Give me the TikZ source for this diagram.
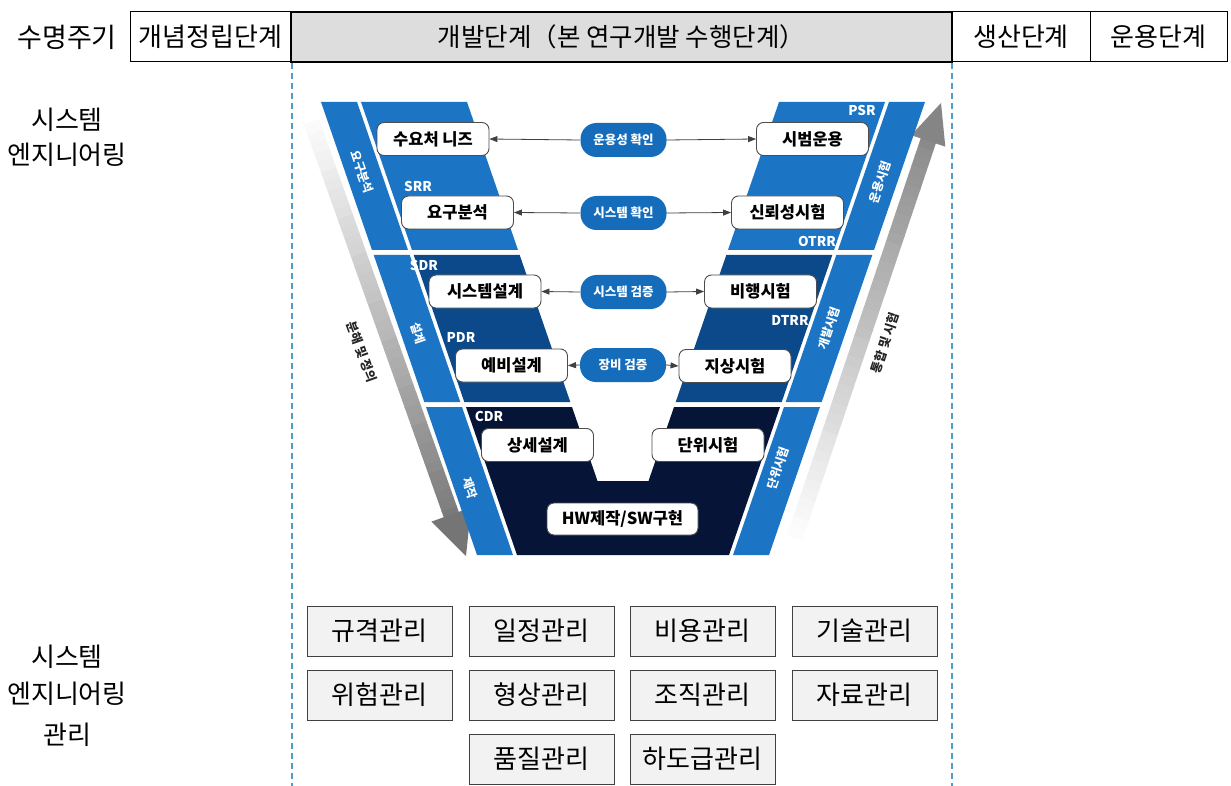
\documentclass[tikz,border=0pt]{standalone}
\usepackage{fontspec}
\setmainfont{Noto Sans CJK KR}
\usetikzlibrary{arrows.meta}
\newcommand{\fsz}[1]{\fontsize{#1}{#1}\selectfont}
\definecolor{vlight}{RGB}{27,116,196}
\definecolor{vmid}{RGB}{11,73,138}
\definecolor{vdark}{RGB}{6,20,56}
\definecolor{pillc}{RGB}{20,108,186}
\definecolor{hdrgray}{RGB}{221,221,221}
\definecolor{mgfill}{RGB}{242,242,242}
\definecolor{dashc}{RGB}{80,155,200}
\begin{document}
\begin{tikzpicture}[x=1pt,y=-1pt,
  hdr/.style={draw=black, line width=1pt, minimum height=50pt, inner sep=0pt, font=\fsz{26}},
  mg/.style={draw=black!75, fill=mgfill, line width=1pt, minimum width=145pt, minimum height=50pt, inner sep=0pt, font=\fsz{26}},
  vbox/.style={draw=black!70, fill=white, rounded corners=7pt, line width=0.9pt, minimum width=112pt, minimum height=33pt, inner sep=0pt, font=\fsz{16.5}\bfseries},
  pill/.style={fill=pillc, rounded corners=16pt, minimum width=86pt, minimum height=34pt, inner sep=0pt, text=white, font=\fsz{12.5}\bfseries},
  rev/.style={text=white, font=\fsz{13.5}\bfseries, inner sep=0pt},
  strl/.style={text=white, font=\fsz{12}\bfseries, inner sep=0pt},
  arl/.style={text=black!85, font=\fsz{12.5}\bfseries, inner sep=0pt},
  conn/.style={draw=black!75, line width=0.8pt, -{Triangle[length=8pt,width=6pt]}},
  dline/.style={draw=dashc, line width=1.2pt, dash pattern=on 6pt off 4pt},
  side/.style={font=\fsz{26}, align=center, inner sep=0pt}
]
\useasboundingbox (0,0) rectangle (1231,786);
\fill[white] (0,0) rectangle (1231,786);

% ---------- header ----------
\node[font=\fsz{27}, inner sep=0pt] (lc) at (67,37) {수명주기};
\node[hdr, minimum width=161pt] (p1) at (210.5,37) {개념정립단계};
\node[hdr, minimum width=138pt] (p3) at (1021,37) {생산단계};
\node[hdr, minimum width=137pt] (p4) at (1158.5,37) {운용단계};
\node[hdr, minimum width=661pt, fill=hdrgray, line width=2.6pt, font=\fsz{25.5}] (p2) at (621.5,37) {개발단계（본 연구개발 수행단계）};

\coordinate (d1) at (292,786);
\coordinate (d2) at (952,786);
\draw[dline] (292,63) -- (d1);
\draw[dline] (952,63) -- (d2);

% ---------- side labels ----------
\node[side] (se1) at (67,120) {시스템};
\node[side] (se2) at (67,155) {엔지니어링};
\node[side] (sm1) at (67,657) {시스템};
\node[side] (sm2) at (67,694) {엔지니어링};
\node[side] (sm3) at (67,735) {관리};

% ---------- gradient arrows ----------
\begin{scope}[shift={(466,556)}, rotate=109.6]
  \foreach \i in {0,...,41} {
    \pgfmathsetmacro\xa{40+\i*10}
    \pgfmathsetmacro\xb{\xa+10.8}
    \pgfmathtruncatemacro\pc{52-50*\i/41}
    \fill[black!\pc] (\xa,-8) rectangle (\xb,8);
  }
  \fill[black!54] (0,0) -- (44,21) -- (44,-21) -- cycle;
\end{scope}
\begin{scope}[shift={(941,103)}, rotate=-108.6]
  \foreach \i in {0,...,41} {
    \pgfmathsetmacro\xa{38+\i*10}
    \pgfmathsetmacro\xb{\xa+10.8}
    \pgfmathtruncatemacro\pc{46-45*\i/41}
    \fill[black!\pc] (\xa,-8) rectangle (\xb,8);
  }
  \fill[black!48] (0,0) -- (40,18) -- (40,-18) -- cycle;
\end{scope}
\node[arl, rotate=-70.4] (ldef) at (362,352) {분해 및 정의};
\node[arl, rotate=71.4] (rint) at (885,343) {통합 및 시험};

% ---------- V shape ----------
% strips
\fill[vlight] (321,102) -- (357,102) -- (408,250) -- (372,250) -- cycle;
\fill[vlight] (373.7,255) -- (409.7,255) -- (460.3,402) -- (424.3,402) -- cycle;
\fill[vlight] (426,407) -- (462,407) -- (513,555) -- (477,555) -- cycle;
\fill[vlight] (889,102) -- (925,102) -- (874,250) -- (838,250) -- cycle;
\fill[vlight] (836.3,255) -- (872.3,255) -- (821.7,402) -- (785.7,402) -- cycle;
\fill[vlight] (784,407) -- (820,407) -- (769,555) -- (733,555) -- cycle;
% bands
\fill[vlight] (361,102) -- (467,102) -- (518,250) -- (412,250) -- cycle;
\fill[vlight] (779,102) -- (885,102) -- (834,250) -- (728,250) -- cycle;
\fill[vmid] (413.7,255) -- (519.7,255) -- (570.3,402) -- (464.3,402) -- cycle;
\fill[vmid] (726.3,255) -- (832.3,255) -- (781.7,402) -- (675.7,402) -- cycle;
\fill[vdark] (466,407) -- (572,407) -- (597.5,481) -- (648.5,481) -- (674,407) -- (780,407) -- (729,555) -- (517,555) -- cycle;

% strip labels
\node[strl, rotate=-71] (s1) at (362,172) {요구분석};
\node[strl, rotate=-71] (s2) at (418,333) {설계};
\node[strl, rotate=-71] (s3) at (470,488) {제작};
\node[strl, rotate=71] (s4) at (880,182) {운용시험};
\node[strl, rotate=71] (s5) at (829,328) {개발시험};
\node[strl, rotate=71] (s6) at (778,468) {단위시험};

% review labels
\node[rev] (psr) at (862,110) {PSR};
\node[rev] (srr) at (418,186) {SRR};
\node[rev] (otrr) at (817,241) {OTRR};
\node[rev] (sdr) at (424,265) {SDR};
\node[rev] (dtrr) at (790,320) {DTRR};
\node[rev] (pdr) at (461,337) {PDR};
\node[rev] (cdr) at (489,416) {CDR};

% boxes
\node[vbox] (nz) at (433,139) {수요처 니즈};
\node[vbox] (ra) at (457.5,212.5) {요구분석};
\node[vbox] (po) at (812.5,139) {시범운용};
\node[vbox] (rt) at (787.5,212.5) {신뢰성시험};
\node[vbox] (sd) at (485,291.5) {시스템설계};
\node[vbox] (pd) at (511.5,365.5) {예비설계};
\node[vbox] (ft) at (760.5,291.5) {비행시험};
\node[vbox] (gt) at (735,366) {지상시험};
\node[vbox] (dd) at (537.5,445) {상세설계};
\node[vbox] (ut) at (708,445) {단위시험};
\node[vbox, minimum width=151pt, minimum height=32pt] (hw) at (622.5,519) {HW제작/SW구현};

% pills
\node[pill] (c1) at (623.5,140) {운용성 확인};
\node[pill] (c2) at (623.5,213) {시스템 확인};
\node[pill] (c3) at (623.5,292) {시스템 검증};
\node[pill] (c4) at (623,365) {장비 검증};

\draw[conn] (c1.west) -- (nz.east);
\draw[conn] (c1.east) -- (po.west);
\draw[conn] (c2.west) -- (ra.east);
\draw[conn] (c2.east) -- (rt.west);
\draw[conn] (c3.west) -- (sd.east);
\draw[conn] (c3.east) -- (ft.west);
\draw[conn] (c4.west) -- (pd.east);
\draw[conn] (c4.east) -- (gt.west);

% ---------- management boxes ----------
\node[mg] (m1) at (379.5,631) {규격관리};
\node[mg] (m2) at (541.5,631) {일정관리};
\node[mg] (m3) at (702.5,631) {비용관리};
\node[mg] (m4) at (864.5,631) {기술관리};
\node[mg] (m5) at (379.5,695) {위험관리};
\node[mg] (m6) at (541.5,695) {형상관리};
\node[mg] (m7) at (702.5,695) {조직관리};
\node[mg] (m8) at (864.5,695) {자료관리};
\node[mg] (m9) at (541.5,759) {품질관리};
\node[mg] (m10) at (702.5,759) {하도급관리};
\end{tikzpicture}
\end{document}
